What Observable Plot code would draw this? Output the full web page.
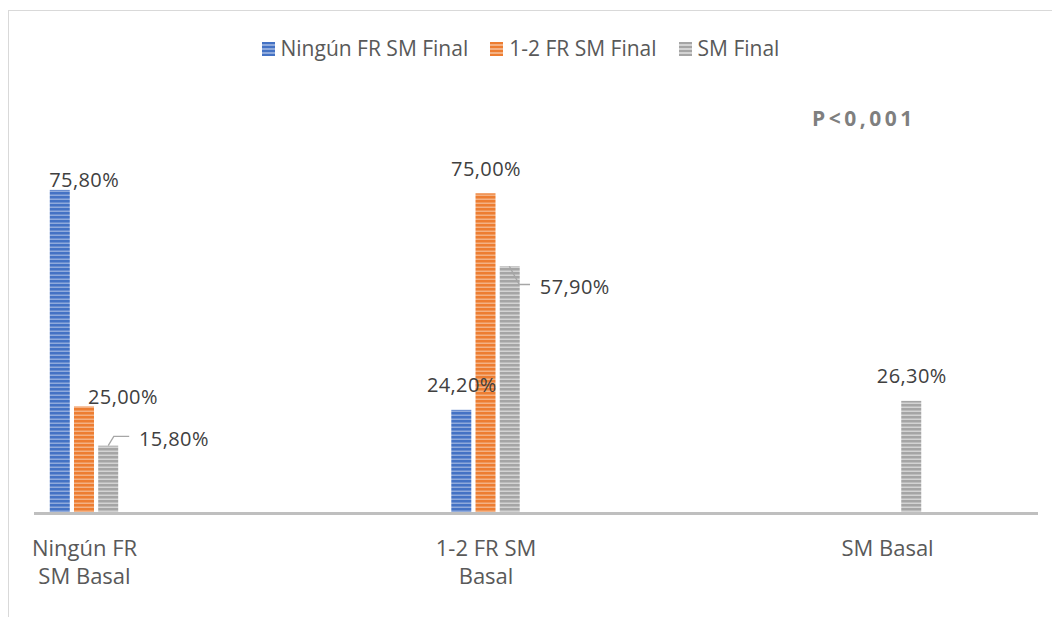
<!DOCTYPE html>
<html><head><meta charset="utf-8">
<script src="https://cdn.jsdelivr.net/npm/d3@7"></script>
<script src="https://cdn.jsdelivr.net/npm/@observablehq/plot@0.6"></script>
<style>
html,body{margin:0;padding:0;background:#fff;}
#wrap{position:relative;width:1052px;height:617px;overflow:hidden;font-family:'Open Sans',sans-serif;}
#frame{position:absolute;left:8px;top:10px;width:1200px;height:800px;border-left:1.5px solid #d9d9d9;border-top:1.5px solid #d9d9d9;}
#chart{position:absolute;left:0;top:0;}
#legend{position:absolute;left:261.5px;top:38px;display:flex;align-items:center;font-size:21px;line-height:21px;color:#595959;white-space:nowrap;}
.item{display:flex;align-items:center;margin-right:22px;}
.sw{width:13px;height:14px;margin-right:6px;}
#pval{position:absolute;left:812px;top:108px;font-size:21px;line-height:21px;font-weight:700;letter-spacing:3.5px;color:#7f7f7f;}
#chart g[aria-label="text"] text{letter-spacing:0.4px;}
</style></head>
<body>
<div id="wrap"><div id="frame"></div><div id="chart"></div><div id="legend"></div><div id="pval"></div></div>
<script>
// ---- data ----
const categories = ["Ningún FR\nSM Basal", "1-2 FR SM\nBasal", "SM Basal"];
const seriesNames = ["Ningún FR SM Final", "1-2 FR SM Final", "SM Final"];
const ningunValues = [75.8, 24.2, null];
const unoDosValues = [25.0, 75.0, null];
const smFinalValues = [15.8, 57.9, 26.3];
const pValueText = "P<0,001";

// ---- styles ----
const baseColors = ["#4472C4", "#ED7D31", "#A5A5A5"];
const lightColors = ["#8FAADC", "#F4B183", "#D3D3D3"];

const seriesValues = [ningunValues, unoDosValues, smFinalValues];
const rows = [];
seriesValues.forEach((vals, si) => vals.forEach((v, ci) => {
  if (v != null) rows.push({series: seriesNames[si], si, category: categories[ci], ci, value: v});
}));

// layout within a group (x units = one category step)
const OFF = 0.0603, HALF = 0.0249;
const cx = d => d.ci + (d.si - 1) * OFF;
const fmt = d => d.value.toFixed(2).replace(".", ",") + "%";

const labelLayout = {
  "0-0": {textAnchor: "start", dx: -11, dy: -3.3, lineAnchor: "bottom"},
  "1-0": {textAnchor: "start", dx: 3.5, dy: -2.7, lineAnchor: "bottom"},
  "2-0": {textAnchor: "start", dx: 30.3, dy: -6.5, lineAnchor: "middle", leader: [[0, 0], [5.6, -9.3], [21, -9.3]]},
  "2-1": {textAnchor: "start", dx: 29.6, dy: 21.3, lineAnchor: "middle", leader: [[-0.4, 0], [9.6, 18.3], [20.3, 18.3]]}
};
const key = d => `${d.si}-${d.ci}`;

const NS = "http://www.w3.org/2000/svg";
function defsMark() {
  const g = document.createElementNS(NS, "g");
  const defs = document.createElementNS(NS, "defs");
  baseColors.forEach((c, i) => {
    const p = document.createElementNS(NS, "pattern");
    p.setAttribute("id", "pat" + i);
    p.setAttribute("patternUnits", "userSpaceOnUse");
    p.setAttribute("width", 8); p.setAttribute("height", 4);
    const r1 = document.createElementNS(NS, "rect");
    r1.setAttribute("width", 8); r1.setAttribute("height", 4); r1.setAttribute("fill", c);
    const r2 = document.createElementNS(NS, "rect");
    r2.setAttribute("y", 2.5); r2.setAttribute("width", 8); r2.setAttribute("height", 1.5); r2.setAttribute("fill", lightColors[i]);
    p.appendChild(r1); p.appendChild(r2);
    defs.appendChild(p);
  });
  g.appendChild(defs);
  return g;
}

function leaderMark(index, scales) {
  const g = document.createElementNS(NS, "g");
  rows.forEach(d => {
    const L = labelLayout[key(d)];
    if (!L || !L.leader) return;
    const x0 = scales.x(cx(d)), y0 = scales.y(d.value);
    const path = document.createElementNS(NS, "path");
    path.setAttribute("d", "M" + L.leader.map(([a, b]) => `${x0 + a},${y0 + b}`).join("L"));
    path.setAttribute("fill", "none");
    path.setAttribute("stroke", "#a6a6a6");
    path.setAttribute("stroke-width", 1.3);
    g.appendChild(path);
  });
  return g;
}

const marks = [defsMark];
seriesNames.forEach((s, k) => {
  marks.push(Plot.rectY(rows.filter(d => d.si === k), {
    x1: d => cx(d) - HALF, x2: d => cx(d) + HALF, y1: 0, y2: "value", fill: `url(#pat${k})`
  }));
});
marks.push(Plot.ruleY([0], {stroke: "#bfbfbf", strokeWidth: 3}));
marks.push(Plot.text(rows.filter(d => !labelLayout[key(d)]), {
  x: cx, y: "value", text: fmt, textAnchor: "middle", lineAnchor: "bottom", dy: -18, fontSize: 20, fill: "#404040"
}));
Object.entries(labelLayout).forEach(([k, L]) => {
  marks.push(Plot.text(rows.filter(d => key(d) === k), {
    x: cx, y: "value", text: fmt, textAnchor: L.textAnchor, lineAnchor: L.lineAnchor, dx: L.dx, dy: L.dy, fontSize: 20, fill: "#404040"
  }));
});
marks.push(leaderMark);
marks.push(Plot.axisX({
  ticks: [0, 1, 2], tickFormat: i => categories[i], tickSize: 0, tickPadding: 23,
  fontSize: 22, lineHeight: 1.27, color: "#595959", label: null
}));

const chart = Plot.plot({
  width: 1052, height: 617,
  marginLeft: 34, marginRight: 14, marginTop: 172, marginBottom: 104,
  x: {type: "linear", domain: [-0.1245, 2.376]},
  y: {domain: [0, 80], axis: null},
  style: {fontFamily: "'Open Sans', sans-serif", background: "transparent", overflow: "visible"},
  marks
});
document.getElementById("chart").appendChild(chart);

// legend
const legend = document.getElementById("legend");
seriesNames.forEach((s, i) => {
  const item = document.createElement("div");
  item.className = "item";
  const sw = document.createElement("div");
  sw.className = "sw";
  sw.style.background = `repeating-linear-gradient(to bottom, ${baseColors[i]} 0 2.5px, ${lightColors[i]} 2.5px 4px)`;
  const t = document.createElement("span");
  t.textContent = s;
  item.appendChild(sw); item.appendChild(t);
  legend.appendChild(item);
});
document.getElementById("pval").textContent = pValueText;
</script>
</body></html>
